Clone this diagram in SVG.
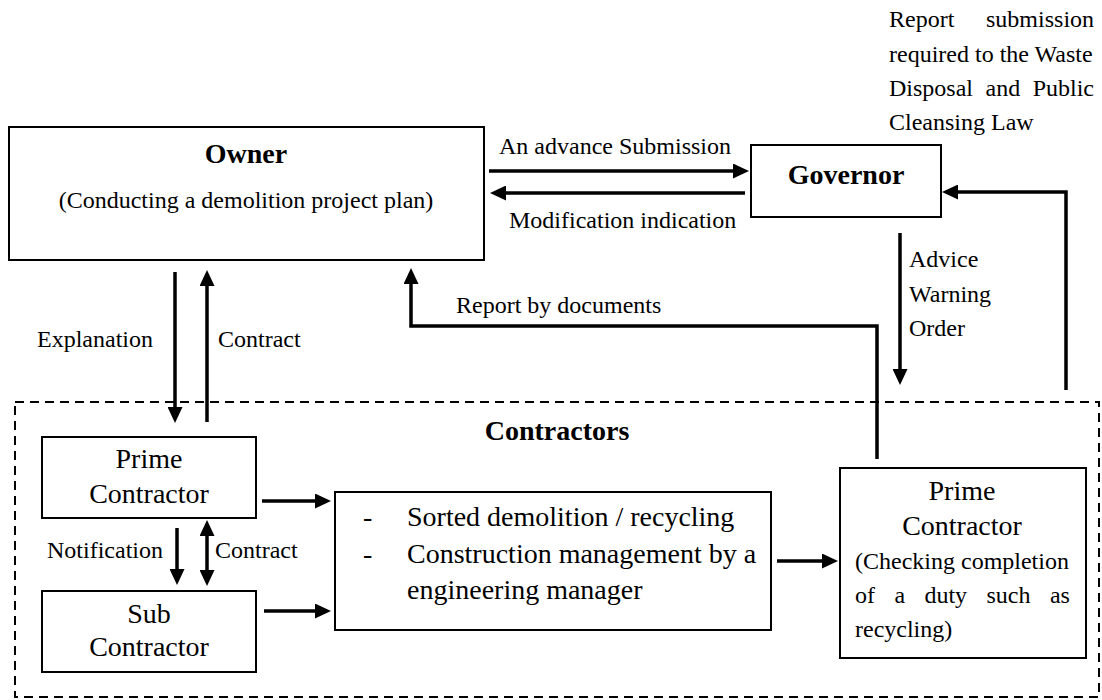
<svg xmlns="http://www.w3.org/2000/svg" width="1102" height="700" viewBox="0 0 1102 700">
<style>
text{font-family:"Liberation Serif","Times New Roman",serif;fill:#000}
.t{font-size:24px}
.b{font-size:28px;font-weight:bold}
.m{font-size:28px}
.c{text-anchor:middle}
.box{fill:#fff;stroke:#000;stroke-width:2}
.ln{fill:none;stroke:#000;stroke-width:3.5}
.dash{fill:none;stroke:#000;stroke-width:2;stroke-dasharray:9 6}
</style>
<defs>
<marker id="ah" markerUnits="userSpaceOnUse" markerWidth="17" markerHeight="15" refX="0" refY="7.5" orient="auto-start-reverse"><path d="M0,0 L16,7.5 L0,15 z" fill="#000"/></marker>
</defs>
<rect width="1102" height="700" fill="#fff"/>
<g id="contractors">
<rect class="dash" x="15" y="402" width="1084" height="295"/>
<text class="b c" x="557" y="440">Contractors</text>
</g>
<g id="note">
<text class="t" x="889" y="27" word-spacing="25.7">Report submission</text>
<text class="t" x="889" y="61.5">required to the Waste</text>
<text class="t" x="889" y="96" word-spacing="6.5">Disposal and Public</text>
<text class="t" x="889" y="130">Cleansing Law</text>
</g>
<g id="owner">
<rect class="box" x="9" y="127" width="475" height="133"/>
<text class="b c" x="246" y="163">Owner</text>
<text class="t c" x="246" y="208">(Conducting a demolition project plan)</text>
</g>
<g id="governor">
<rect class="box" x="751" y="145" width="190" height="72"/>
<text class="b c" x="846" y="184">Governor</text>
</g>
<g id="prime-left">
<rect class="box" x="42" y="437" width="214" height="81"/>
<text class="m c" x="149" y="468">Prime</text>
<text class="m c" x="149" y="503">Contractor</text>
</g>
<g id="sub">
<rect class="box" x="42" y="591" width="214" height="81"/>
<text class="m c" x="149" y="623">Sub</text>
<text class="m c" x="149" y="656">Contractor</text>
</g>
<g id="work">
<rect class="box" x="335" y="492" width="436" height="138"/>
<text class="m" x="363" y="526">-</text>
<text class="m" x="407" y="526">Sorted demolition / recycling</text>
<text class="m" x="363" y="563">-</text>
<text class="m" x="407" y="563">Construction management by a</text>
<text class="m" x="407" y="599">engineering manager</text>
</g>
<g id="prime-right">
<rect class="box" x="840" y="468" width="246" height="190"/>
<text class="m c" x="962" y="500">Prime</text>
<text class="m c" x="962" y="535">Contractor</text>
<text class="t" x="855" y="569">(Checking completion</text>
<text class="t" x="855" y="603" word-spacing="13.4">of a duty such as</text>
<text class="t" x="855" y="637">recycling)</text>
</g>
<g id="connectors">
<path class="ln" d="M489,171 H733" marker-end="url(#ah)"/>
<path class="ln" d="M745,193 H506" marker-end="url(#ah)"/>
<path class="ln" d="M1066,390 V192 H958" marker-end="url(#ah)"/>
<path class="ln" d="M900,233 V369" marker-end="url(#ah)"/>
<path class="ln" d="M877,459 V326 H411 V284" marker-end="url(#ah)"/>
<path class="ln" d="M175,272 V407" marker-end="url(#ah)"/>
<path class="ln" d="M207,422 V286" marker-end="url(#ah)"/>
<path class="ln" d="M262,501 H315" marker-end="url(#ah)"/>
<path class="ln" d="M264,611 H315" marker-end="url(#ah)"/>
<path class="ln" d="M177,528 V569" marker-end="url(#ah)"/>
<path class="ln" d="M207,536 V570" marker-start="url(#ah)" marker-end="url(#ah)"/>
<path class="ln" d="M777,561 H822" marker-end="url(#ah)"/>
<text class="t" x="499" y="154">An advance Submission</text>
<text class="t" x="509" y="228">Modification indication</text>
<text class="t" x="909" y="267">Advice</text>
<text class="t" x="909" y="302">Warning</text>
<text class="t" x="909" y="336">Order</text>
<text class="t" x="456" y="313">Report by documents</text>
<text class="t" x="153" y="347" text-anchor="end">Explanation</text>
<text class="t" x="218" y="347">Contract</text>
<text class="t" x="163" y="558" text-anchor="end">Notification</text>
<text class="t" x="215" y="558">Contract</text>
</g>
</svg>
